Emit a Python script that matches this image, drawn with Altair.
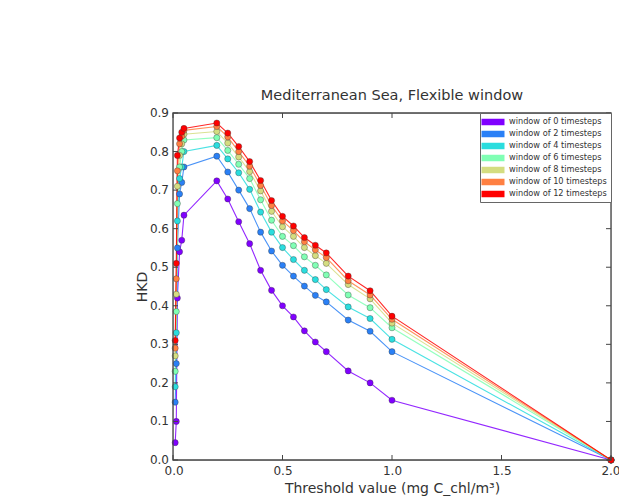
import altair as alt
import pandas as pd

# Threshold values (x axis)
thresholds = [0.01, 0.015, 0.02, 0.03, 0.04, 0.05, 0.2, 0.25, 0.3, 0.35, 0.4, 0.45,
              0.5, 0.55, 0.6, 0.65, 0.7, 0.8, 0.9, 1.0, 2.0]

series_names = ["window of 0 timesteps", "window of 2 timesteps", "window of 4 timesteps",
                "window of 6 timesteps", "window of 8 timesteps", "window of 10 timesteps",
                "window of 12 timesteps"]
series_colors = ["#8000ff", "#2a80f6", "#2addde", "#80ffb4", "#d4dd80", "#ff8042", "#ff0000"]

w0 = [0.045, 0.10, 0.42, 0.54, 0.57, 0.635, 0.724, 0.677, 0.618, 0.561, 0.492, 0.44,
      0.40, 0.371, 0.335, 0.306, 0.281, 0.231, 0.20, 0.155, 0.0]
w2 = [0.15, 0.25, 0.55, 0.69, 0.72, 0.76, 0.788, 0.747, 0.70, 0.652, 0.591, 0.542,
      0.505, 0.477, 0.451, 0.427, 0.41, 0.363, 0.334, 0.281, 0.0]
w4 = [0.19, 0.33, 0.62, 0.73, 0.76, 0.80, 0.816, 0.781, 0.745, 0.702, 0.643, 0.591,
      0.551, 0.52, 0.492, 0.468, 0.442, 0.397, 0.367, 0.313, 0.0]
w6 = [0.23, 0.385, 0.665, 0.76, 0.80, 0.83, 0.836, 0.803, 0.767, 0.73, 0.675, 0.622,
      0.58, 0.556, 0.527, 0.505, 0.48, 0.428, 0.395, 0.343, 0.0]
w8 = [0.27, 0.43, 0.71, 0.79, 0.82, 0.845, 0.852, 0.822, 0.786, 0.748, 0.698, 0.645,
      0.605, 0.58, 0.551, 0.53, 0.51, 0.455, 0.418, 0.355, 0.0]
w10 = [0.29, 0.47, 0.75, 0.82, 0.84, 0.855, 0.865, 0.838, 0.80, 0.762, 0.712, 0.66,
       0.62, 0.595, 0.566, 0.545, 0.525, 0.465, 0.428, 0.365, 0.0]
w12 = [0.31, 0.51, 0.79, 0.835, 0.85, 0.86, 0.874, 0.848, 0.813, 0.774, 0.725, 0.673,
       0.632, 0.607, 0.577, 0.557, 0.537, 0.477, 0.439, 0.373, 0.0]

all_series = [w0, w2, w4, w6, w8, w10, w12]

x_ticks = [0.0, 0.5, 1.0, 1.5, 2.0]
y_ticks = [0.0, 0.1, 0.2, 0.3, 0.4, 0.5, 0.6, 0.7, 0.8, 0.9]
y_tick_labels = ["0.0", "0.1", "0.2", "0.3", "0.4", "0.5", "0.6", "0.7", "0.8", "0.9"]

rows = []
for i, (name, vals) in enumerate(zip(series_names, all_series)):
    for t, v in zip(thresholds, vals):
        rows.append({"series": name, "order": i, "threshold": t, "hkd": v})
df = pd.DataFrame(rows)

xscale = alt.Scale(domain=[0, 2.0], nice=False, zero=False)
yscale = alt.Scale(domain=[0, 0.9], nice=False, zero=False)
color_scale = alt.Scale(domain=series_names, range=series_colors)

FONT = "DejaVu Sans"
TXT = "#333333"
W, H = 438, 347

x_enc = alt.X("threshold:Q", scale=xscale,
              axis=alt.Axis(values=x_ticks, format=".1f", ticks=False, domain=False, grid=False,
                            labelFontSize=12, labelPadding=5, labelColor=TXT, labelFont=FONT,
                            labelFlush=True, labelFlushOffset=9, labelOverlap=False,
                            labelBound=False,
                            title="Threshold value (mg C_chl/m³)", titleFontSize=14,
                            titleFontWeight="normal", titleColor=TXT, titleFont=FONT,
                            titlePadding=5))
y_enc = alt.Y("hkd:Q", scale=yscale,
              axis=alt.Axis(values=y_ticks, labels=False, ticks=False, domain=False, grid=False,
                            title="HKD", titleFontSize=14, titleFontWeight="normal",
                            titleColor=TXT, titleFont=FONT, titlePadding=24))

legend = alt.Legend(orient="top-right", title=None, offset=0,
                    symbolType="M-2.3,-0.65L2.3,-0.65L2.3,0.65L-2.3,0.65Z", symbolSize=100,
                    symbolStrokeWidth=0, symbolOpacity=1, symbolOffset=4,
                    labelFontSize=8.2, labelFont=FONT, labelColor=TXT, labelLimit=200,
                    labelOffset=11, rowPadding=3, padding=4,
                    strokeColor="#666666", fillColor="white", cornerRadius=0)

base = alt.Chart(df)

lines = base.mark_line(strokeWidth=1.1, opacity=0.85).encode(
    x=x_enc, y=y_enc,
    color=alt.Color("series:N", scale=color_scale, legend=legend),
    detail="series:N",
    order="threshold:Q",
)

points = base.mark_point(filled=True, size=38, opacity=1, stroke="#333333",
                         strokeWidth=0.6, strokeOpacity=0.6).encode(
    x=alt.X("threshold:Q", scale=xscale),
    y=alt.Y("hkd:Q", scale=yscale),
    color=alt.Color("series:N", scale=color_scale, legend=legend),
    order="order:Q",
)

# y tick labels drawn as text through the y scale
yl = pd.DataFrame({"v": y_ticks, "label": y_tick_labels})
y_labels = alt.Chart(yl).mark_text(align="right", baseline="middle", fontSize=12,
                                   font=FONT, color=TXT, dx=-4).encode(
    y=alt.Y("v:Q", scale=yscale), x=alt.value(0), text="label:N")

# matplotlib-style inward tick marks on all four sides, and the frame
xt = pd.DataFrame({"v": x_ticks})
yt = pd.DataFrame({"v": y_ticks})
tick_style = dict(color="#444444", strokeWidth=1)
xt_bottom = alt.Chart(xt).mark_rule(**tick_style).encode(
    x=alt.X("v:Q", scale=xscale), y=alt.value(H), y2=alt.value(H - 5))
xt_top = alt.Chart(xt).mark_rule(**tick_style).encode(
    x=alt.X("v:Q", scale=xscale), y=alt.value(0), y2=alt.value(5))
yt_left = alt.Chart(yt).mark_rule(**tick_style).encode(
    y=alt.Y("v:Q", scale=yscale), x=alt.value(0), x2=alt.value(5))
yt_right = alt.Chart(yt).mark_rule(**tick_style).encode(
    y=alt.Y("v:Q", scale=yscale), x=alt.value(W), x2=alt.value(W - 5))
frame = alt.Chart(pd.DataFrame({"v": [0]})).mark_rect(
    fill=None, fillOpacity=0, stroke="#444444", strokeWidth=1.3).encode(
    x=alt.value(0), x2=alt.value(W), y=alt.value(0), y2=alt.value(H))

chart = alt.layer(lines, points, xt_bottom, xt_top, yt_left, yt_right, frame, y_labels).properties(
    width=W, height=H,
    title=alt.Title("Mediterranean Sea, Flexible window", fontSize=14.5, font=FONT,
                    fontWeight="normal", color=TXT, offset=4),
    autosize=alt.AutoSizeParams(type="none"),
    padding={"left": 165, "top": 105, "right": 8, "bottom": 36},
).configure_view(stroke=None).configure(background="white")

chart.save("out.html", embed_options={"renderer": "svg", "actions": False})
